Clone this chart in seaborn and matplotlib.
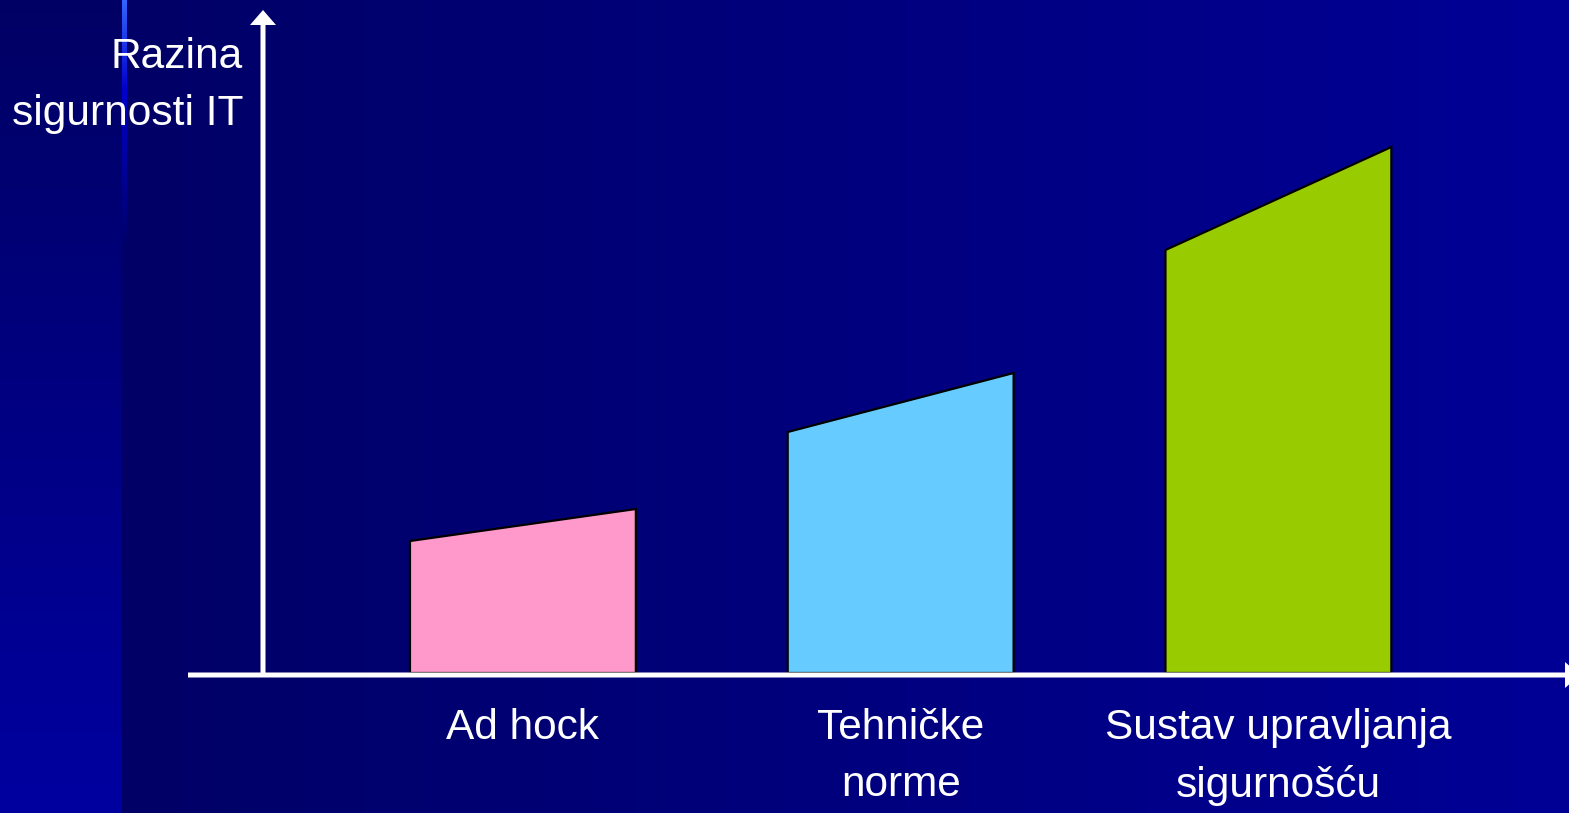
import numpy as np
import pandas as pd
import matplotlib
matplotlib.use("Agg")
import matplotlib.pyplot as plt
import seaborn as sns
from matplotlib.patches import Polygon, FancyArrow
from matplotlib.transforms import IdentityTransform

# chart data
categories = ["Ad hock", "Tehničke\nnorme", "Sustav upravljanja\nsigurnošću"]
level_left = [132, 241, 423]    # height at the left edge of each bar
level_right = [164, 300, 526]   # height at the right edge of each bar
bar_colors = ["#ff99cc", "#66ccff", "#99cc00"]
y_title = "Razina\nsigurnosti IT"

W, H, DPI = 1569, 813, 100

sns.set_theme(style="white")
plt.rcParams["font.family"] = ["Liberation Sans", "DejaVu Sans"]

fig = plt.figure(figsize=(W / DPI, H / DPI), dpi=DPI)

# background: dark blue gradient with a brighter strip on the left
xs = np.arange(W)
ys = np.arange(H)
blue = np.interp(xs, [122, W], [102, 150])
img = np.zeros((H, W, 3))
img[:, :, 2] = blue[None, :]
img[:, :122, 2] = np.interp(ys, [0, H], [100, 160])[:, None]
# light line at the top of the strip edge
img[:, 122:127, 0] = np.interp(ys, [0, 90, 250], [51, 0, 0])[:, None]
img[:, 122:127, 1] = np.interp(ys, [0, 90, 250], [102, 0, 0])[:, None]
img[:, 122:127, 2] = np.interp(ys, [0, 90, 250], [255, 204, blue[124]])[:, None]
bg = fig.add_axes([0, 0, 1, 1], zorder=0)
bg.imshow(img / 255, aspect="auto", interpolation="nearest")
bg.axis("off")

ax = fig.add_axes([0, 140 / H, 1, 673 / H], zorder=1)
ax.set_facecolor("none")

df = pd.DataFrame({"cat": categories, "left": level_left, "right": level_right})
sns.barplot(data=df, x="cat", y="right", hue="cat", palette=bar_colors,
            saturation=1, width=0.598, legend=False, ax=ax)

# turn each bar into a trapezoid with a sloped top
bars = list(ax.patches)
for p, (_, row) in zip(bars, df.iterrows()):
    x0 = p.get_x()
    w = p.get_width()
    poly = Polygon([(x0, 0), (x0, row["left"]), (x0 + w, row["right"]), (x0 + w, 0)],
                   closed=True, facecolor=p.get_facecolor(), edgecolor="black",
                   lw=1.6, joinstyle="miter", zorder=2)
    ax.add_patch(poly)
    p.remove()

ax.set_xlim(-1.3843, 2.7693)
ax.set_ylim(0, 673)
ax.set_xlabel("")
ax.set_ylabel("")
ax.set_yticks([])
sns.despine(ax=ax, left=True, bottom=True)
ax.tick_params(axis="x", length=0, labelsize=30.5, labelcolor="white", pad=25)
for lab in ax.get_xticklabels():
    lab.set_linespacing(1.55)

# axis arrows, drawn in figure pixels
fig.add_artist(FancyArrow(263, H - 673, 0, 663, width=5, head_width=26, head_length=15,
                          length_includes_head=True, color="white", lw=0,
                          transform=IdentityTransform(), zorder=3))
fig.add_artist(FancyArrow(188, H - 675, 1392, 0, width=5, head_width=26, head_length=15,
                          length_includes_head=True, color="white", lw=0,
                          transform=IdentityTransform(), zorder=3))

fig.text(243 / W, 1 - 37 / H, y_title, ha="right", va="top",
         fontsize=30.6, color="white", linespacing=1.55)

fig.savefig("out.png", dpi=DPI)
